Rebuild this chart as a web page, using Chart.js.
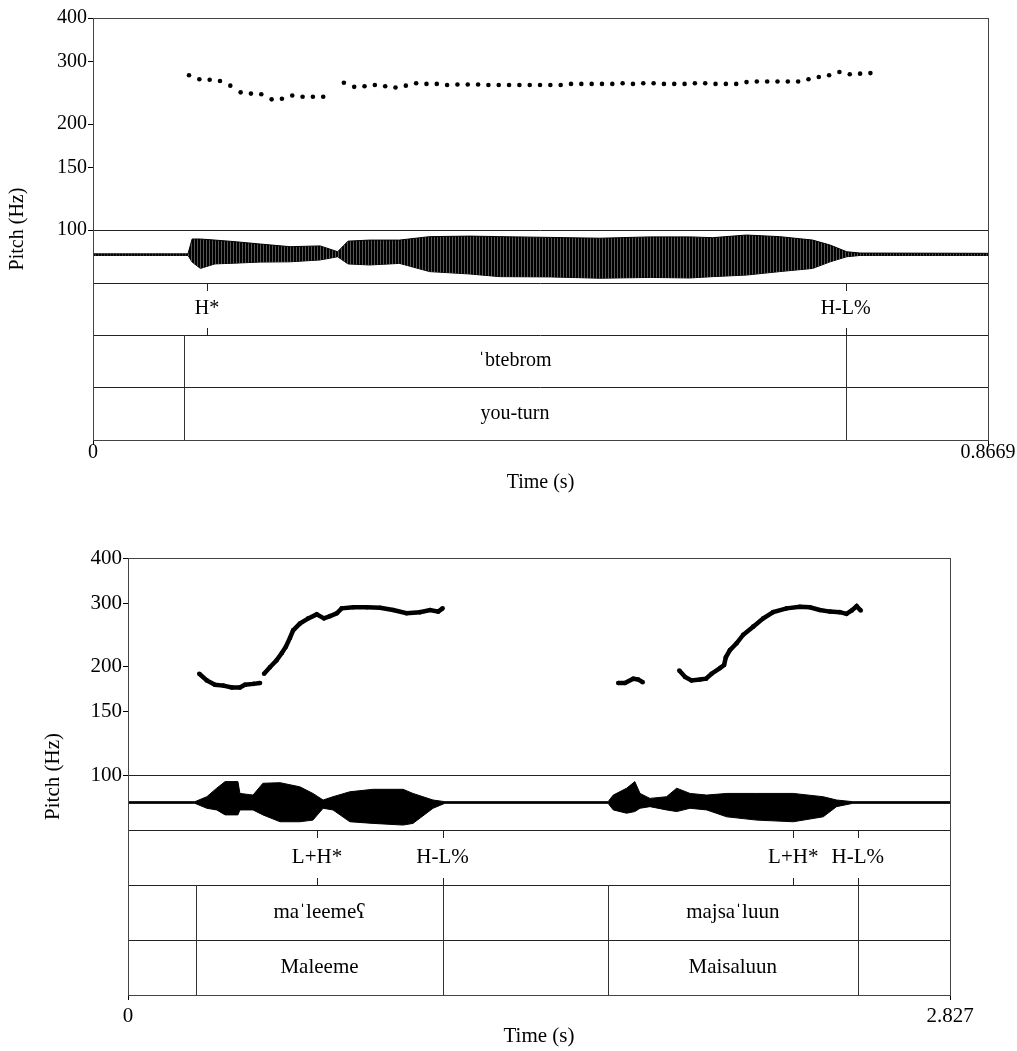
<!DOCTYPE html>
<html>
<head>
<meta charset="utf-8">
<script src="https://cdn.jsdelivr.net/npm/chart.js@4.4.1/dist/chart.umd.min.js"></script>
<style>
  body { margin: 0; background: #fff; }
  .panel { position: absolute; left: 0; }
</style>
</head>
<body>
<div class="panel" style="top:0"><canvas id="topChart" width="1017" height="500"></canvas></div>
<div class="panel" style="top:500px"><canvas id="bottomChart" width="1017" height="551"></canvas></div>
<script>
// ---- shared ticks ----
const pitchTicks = [100, 150, 200, 300, 400];

// ---- top panel: "btebrom" ----
const topTimeMax = 0.8669;
const topTimeTicks = [0, 0.8669];
const topTimeTickLabels = ["0", "0.8669"];
const topPitchTime = [
  0.093, 0.103, 0.113, 0.123, 0.133, 0.143, 0.153, 0.163, 0.173, 0.183, 0.193, 0.203, 0.213, 0.223,
  0.233,
  0.243, 0.253, 0.263, 0.273, 0.283, 0.293, 0.303, 0.313, 0.323, 0.333, 0.343, 0.353, 0.363, 0.373,
  0.383, 0.393, 0.403, 0.413, 0.423, 0.433, 0.443, 0.453, 0.463, 0.473, 0.483, 0.493, 0.503, 0.513,
  0.523, 0.533, 0.543, 0.553, 0.563, 0.573, 0.583, 0.593, 0.603, 0.613, 0.623, 0.633, 0.643, 0.653,
  0.663, 0.673, 0.683, 0.693, 0.703, 0.713, 0.723, 0.733, 0.743, 0.753
];
const topPitchHz = [
  275, 268, 267, 265, 257, 246, 244, 243, 235, 236, 241, 239, 239, 239,
  null,
  262, 255, 256, 258, 256, 254, 257, 261, 260, 260, 258, 259, 259, 259,
  258, 258, 258, 258, 258, 258, 258, 258, 260, 260, 260, 260, 260, 261,
  260, 261, 261, 260, 260, 260, 261, 261, 260, 260, 260, 263, 264, 264,
  264, 264, 264, 268, 272, 275, 281, 277, 278, 279
];
const topWaveTime = [0, 0.092, 0.096, 0.104, 0.118, 0.1375, 0.162, 0.191, 0.220, 0.237, 0.247, 0.268, 0.297, 0.326,
  0.365, 0.394, 0.443, 0.491, 0.540, 0.578, 0.600, 0.633, 0.665, 0.697, 0.714, 0.730, 0.743, 0.8669];
const topWaveUpper = [0.10, 0.10, 0.66, 0.66, 0.62, 0.56, 0.47, 0.37, 0.40, 0.18, 0.58, 0.62, 0.62, 0.75,
  0.77, 0.75, 0.72, 0.69, 0.74, 0.74, 0.71, 0.81, 0.75, 0.62, 0.43, 0.18, 0.13, 0.12];
const topWaveLower = [0.04, 0.04, -0.21, -0.45, -0.28, -0.25, -0.21, -0.20, -0.13, -0.01, -0.28, -0.32, -0.26, -0.57,
  -0.66, -0.76, -0.77, -0.82, -0.79, -0.81, -0.76, -0.70, -0.57, -0.45, -0.20, -0.01, 0.04, 0.04];
const topToneTimes = [0.1104, 0.7290];
const topToneLabels = ["H*", "H-L%"];
const topWordStarts = [0.0881];
const topWordEnds = [0.7294];
const topWordLabels = ["\u02C8btebrom"];
const topGlossLabels = ["you-turn"];

// ---- bottom panel: "Maleeme Maisaluun" ----
const botTimeMax = 2.827;
const botTimeTicks = [0, 2.827];
const botTimeTickLabels = ["0", "2.827"];
const botPitchTime = [
  0.245, 0.271, 0.299, 0.328, 0.357, 0.385, 0.402, 0.431, 0.454,
  0.461,
  0.468, 0.488, 0.511, 0.529, 0.543, 0.557, 0.568, 0.591, 0.620, 0.649, 0.674, 0.695, 0.718, 0.735,
  0.775, 0.821, 0.867, 0.912, 0.958, 1.004, 1.039, 1.067, 1.082,
  1.38,
  1.686, 1.709, 1.738, 1.755, 1.770,
  1.83,
  1.896, 1.916, 1.938, 1.967, 1.988, 2.007, 2.036, 2.050, 2.056, 2.070, 2.093, 2.116, 2.150, 2.185,
  2.219, 2.265, 2.311, 2.345, 2.379, 2.414, 2.448, 2.471, 2.489, 2.506, 2.520
];
const botPitchHz = [
  191, 183, 178, 177, 175, 175, 178, 179, 180,
  null,
  191, 199, 208, 218, 227, 240, 252, 263, 272, 279, 272, 276, 281, 290,
  292, 292, 291, 287, 281, 283, 287, 284, 290,
  null,
  180, 180, 185, 184, 181,
  null,
  195, 187, 183, 184, 185, 191, 198, 202, 212, 222, 232, 245, 258, 272,
  283, 290, 293, 292, 287, 284, 283, 280, 286, 294, 286
];
const botWaveTime = [0, 0.230, 0.271, 0.305, 0.334, 0.378, 0.385, 0.430, 0.464, 0.523,
  0.591, 0.636, 0.671, 0.705, 0.763, 0.843, 0.946, 0.980, 1.049, 1.090,
  1.651, 1.669, 1.715, 1.743, 1.761, 1.795, 1.852, 1.887, 1.933, 1.990,
  2.059, 2.162, 2.288, 2.391, 2.437, 2.493, 2.827];
const botWaveUpper = [0.03, 0.03, 0.21, 0.52, 0.76, 0.76, 0.33, 0.27, 0.70, 0.72,
  0.57, 0.33, 0.09, 0.21, 0.39, 0.48, 0.48, 0.33, 0.09, 0.03,
  0.03, 0.27, 0.52, 0.76, 0.33, 0.15, 0.21, 0.52, 0.33, 0.27,
  0.33, 0.33, 0.33, 0.21, 0.09, 0.03, 0.03];
const botWaveLower = [-0.03, -0.03, -0.21, -0.27, -0.45, -0.45, -0.27, -0.27, -0.45, -0.70,
  -0.70, -0.64, -0.21, -0.27, -0.70, -0.76, -0.82, -0.76, -0.21, -0.03,
  -0.03, -0.27, -0.39, -0.33, -0.21, -0.15, -0.27, -0.33, -0.21, -0.27,
  -0.52, -0.64, -0.70, -0.52, -0.15, -0.03, -0.03];
const botToneTimes = [0.650, 1.082, 2.288, 2.510];
const botToneLabels = ["L+H*", "H-L%", "L+H*", "H-L%"];
const botWordStarts = [0.234, 1.650];
const botWordEnds = [1.083, 2.510];
const botWordLabels = ["ma\u02C8leeme\u0295", "majsa\u02C8luun"];
const botGlossLabels = ["Maleeme", "Maisaluun"];

const SERIF = "'Liberation Serif', 'Times New Roman', serif";

function pts(xs, ys) {
  return xs.map((x, i) => ({ x: x, y: ys[i] }));
}

function stripes(ctx) {
  const c = document.createElement("canvas");
  c.width = 3;
  c.height = 4;
  const g = c.getContext("2d");
  g.fillStyle = "#000";
  g.fillRect(0, 0, 2, 4);
  g.fillStyle = "#555";
  g.fillRect(2, 0, 1, 4);
  return ctx.createPattern(c, "repeat");
}

// frame, tiers and axis titles, placed with the chart's own scales
function praatPlugin(p) {
  return {
    id: "praat",
    afterDatasetsDraw(chart) {
      const { ctx, chartArea: a, scales } = chart;
      const xs = scales.x;
      const tone = scales.tone, word = scales.word, gloss = scales.gloss;
      const px = (t) => Math.round(xs.getPixelForValue(t)) + 0.5;
      ctx.save();
      ctx.lineWidth = 1;
      ctx.strokeStyle = "#222";
      [scales.pitch.bottom, scales.wave.bottom, tone.bottom, word.bottom].forEach((y) => {
        ctx.beginPath();
        ctx.moveTo(a.left, Math.round(y) + 0.5);
        ctx.lineTo(a.right, Math.round(y) + 0.5);
        ctx.stroke();
      });
      ctx.strokeStyle = "#444";
      ctx.strokeRect(Math.round(a.left) + 0.5, Math.round(a.top) + 0.5,
        Math.round(a.right - a.left), Math.round(a.bottom - a.top));

      ctx.fillStyle = "#000";
      ctx.font = p.fontSize + "px " + SERIF;
      ctx.textAlign = "center";
      ctx.textBaseline = "middle";

      // point tier
      const toneMid = (tone.top + tone.bottom) / 2;
      p.toneTimes.forEach((t, i) => {
        const x = px(t);
        ctx.strokeStyle = "#222";
        ctx.beginPath();
        ctx.moveTo(x, tone.top);
        ctx.lineTo(x, tone.top + 8);
        ctx.moveTo(x, tone.bottom - 7);
        ctx.lineTo(x, tone.bottom);
        ctx.stroke();
        ctx.fillText(p.toneLabels[i], xs.getPixelForValue(t), toneMid);
      });

      // interval tiers
      const bounds = p.wordStarts.concat(p.wordEnds);
      ctx.strokeStyle = "#333";
      bounds.forEach((t) => {
        const x = px(t);
        ctx.beginPath();
        ctx.moveTo(x, word.top);
        ctx.lineTo(x, gloss.bottom);
        ctx.stroke();
      });
      const wordMid = (word.top + word.bottom) / 2;
      const glossMid = (gloss.top + gloss.bottom) / 2;
      p.wordStarts.forEach((s, i) => {
        const cx = xs.getPixelForValue((s + p.wordEnds[i]) / 2);
        ctx.fillText(p.wordLabels[i], cx, wordMid);
        ctx.fillText(p.glossLabels[i], cx, glossMid);
      });

      // axis titles
      ctx.fillText("Time (s)", (a.left + a.right) / 2, p.xTitleY);
      ctx.translate(p.yTitleX, (a.top + a.bottom) / 2);
      ctx.rotate(-Math.PI / 2);
      ctx.fillText("Pitch (Hz)", 0, 0);
      ctx.restore();
    },
  };
}

function buildPanel(canvasId, p) {
  const ctx = document.getElementById(canvasId).getContext("2d");
  const tickFont = { family: SERIF, size: p.fontSize, lineHeight: 1 };
  const hidden = (w, weight) => ({
    type: "linear", position: "left", stack: "panel", stackWeight: w, weight: weight,
    min: -1, max: 1, display: false,
  });
  return new Chart(ctx, {
    type: "scatter",
    data: {
      datasets: [
        {
          label: "wave upper",
          data: pts(p.waveTime, p.waveUpper),
          yAxisID: "wave",
          showLine: true,
          borderColor: "#000",
          borderWidth: 1,
          backgroundColor: p.waveFill(ctx),
          fill: "+1",
          pointRadius: 0,
        },
        {
          label: "wave lower",
          data: pts(p.waveTime, p.waveLower),
          yAxisID: "wave",
          showLine: true,
          borderColor: "#000",
          borderWidth: 1,
          fill: false,
          pointRadius: 0,
        },
        {
          label: "pitch",
          data: pts(p.pitchTime, p.pitchHz),
          yAxisID: "pitch",
          showLine: p.pitchLine,
          spanGaps: false,
          borderColor: "#000",
          borderWidth: p.pitchLineWidth,
          pointRadius: p.dotRadius,
          pointBackgroundColor: "#000",
          pointBorderWidth: 0,
        },
      ],
    },
    options: {
      responsive: false,
      animation: false,
      events: [],
      layout: { padding: p.padding },
      plugins: { legend: { display: false }, tooltip: { enabled: false } },
      scales: {
        x: {
          type: "linear",
          position: "bottom",
          min: 0,
          max: p.timeMax,
          afterBuildTicks: (s) => { s.ticks = p.timeTicks.map((v) => ({ value: v })); },
          afterFit: (s) => { s.height = p.xAxisHeight; },
          ticks: {
            font: tickFont, color: "#000", padding: p.xTickPad, maxRotation: 0, autoSkip: false,
            callback: (v, i) => p.timeTickLabels[i],
          },
          grid: { drawOnChartArea: false, tickLength: 5, color: "#000" },
          border: { display: false },
        },
        pitch: {
          type: "logarithmic",
          position: "left",
          stack: "panel",
          stackWeight: p.weights[0],
          weight: 5,
          min: 100,
          max: 400,
          afterBuildTicks: (s) => { s.ticks = pitchTicks.map((v) => ({ value: v })); },
          afterFit: (s) => { s.width = p.yAxisWidth; },
          ticks: {
            font: tickFont, color: "#000", padding: 1, autoSkip: false,
            callback: (v) => String(v),
          },
          grid: { drawOnChartArea: false, tickLength: 5, color: "#000" },
          border: { display: false },
        },
        wave: hidden(p.weights[1], 4),
        tone: hidden(p.weights[2], 3),
        word: hidden(p.weights[3], 2),
        gloss: hidden(p.weights[4], 1),
      },
    },
    plugins: [praatPlugin(p)],
  });
}

buildPanel("topChart", {
  timeMax: topTimeMax, timeTicks: topTimeTicks, timeTickLabels: topTimeTickLabels,
  pitchTime: topPitchTime, pitchHz: topPitchHz, pitchLine: false, pitchLineWidth: 0, dotRadius: 2.3,
  waveTime: topWaveTime, waveUpper: topWaveUpper, waveLower: topWaveLower, waveFill: stripes,
  toneTimes: topToneTimes, toneLabels: topToneLabels,
  wordStarts: topWordStarts, wordEnds: topWordEnds, wordLabels: topWordLabels, glossLabels: topGlossLabels,
  weights: [212, 53, 52, 52, 53],
  padding: { left: 0, top: 18, right: 29, bottom: 20 },
  yAxisWidth: 93, xAxisHeight: 40, xTickPad: -2,
  fontSize: 20, yTitleX: 18, xTitleY: 483,
});

buildPanel("bottomChart", {
  timeMax: botTimeMax, timeTicks: botTimeTicks, timeTickLabels: botTimeTickLabels,
  pitchTime: botPitchTime, pitchHz: botPitchHz, pitchLine: true, pitchLineWidth: 4.5, dotRadius: 2.3,
  waveTime: botWaveTime, waveUpper: botWaveUpper, waveLower: botWaveLower, waveFill: () => "#000",
  toneTimes: botToneTimes, toneLabels: botToneLabels,
  wordStarts: botWordStarts, wordEnds: botWordEnds, wordLabels: botWordLabels, glossLabels: botGlossLabels,
  weights: [217, 55, 55, 55, 55],
  padding: { left: 0, top: 58, right: 67, bottom: 16 },
  yAxisWidth: 128, xAxisHeight: 40, xTickPad: 6,
  fontSize: 21, yTitleX: 53, xTitleY: 536,
});
</script>
</body>
</html>
